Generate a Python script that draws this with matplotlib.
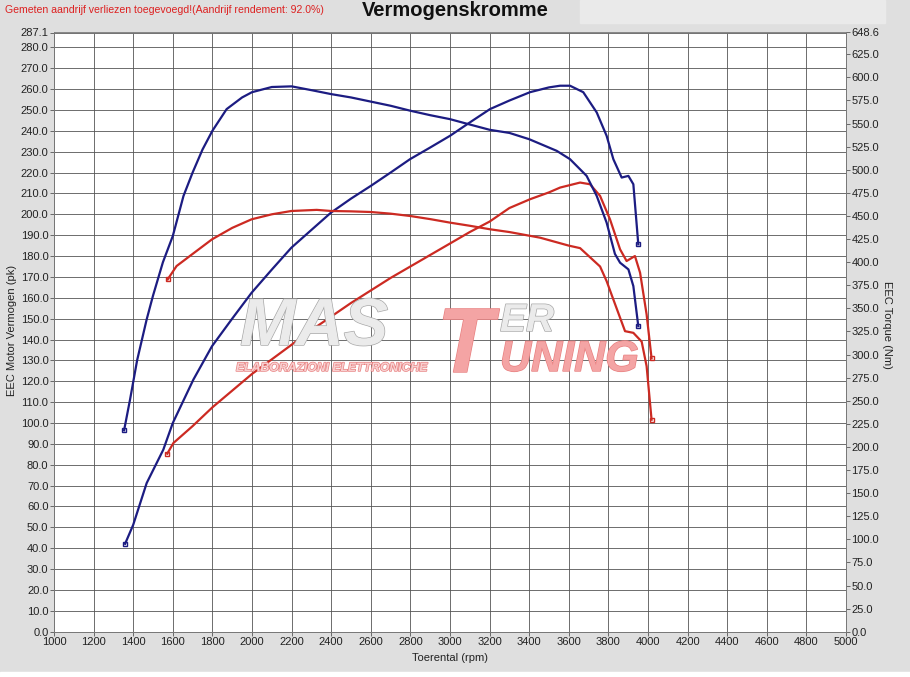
#!/usr/bin/env python3
"""
Vermogenskromme - dyno power / torque curves (stock vs tuned)
"""

import numpy as np
import matplotlib.pyplot as plt
from matplotlib.patches import Rectangle
import matplotlib.patheffects as pe

plt.rcParams['font.family'] = ['Liberation Sans', 'DejaVu Sans']

# Tuned power (pk)
rpm_pow_tuned = [1359, 1400, 1468, 1552, 1600, 1704, 1798, 1900, 1998, 2100, 2199, 2300,
                 2399, 2500, 2600, 2700, 2798, 2900, 3000, 3100, 3202, 3300, 3404, 3500,
                 3556, 3606, 3673, 3741, 3791, 3825, 3867, 3901, 3926, 3951]
pow_tuned = [42.1, 51.2, 71.2, 87.2, 100.0, 120.8, 136.8, 150.0, 162.4, 173.5, 184.0, 192.5,
             200.8, 207.5, 213.6, 220.0, 226.4, 232.0, 237.6, 244.0, 250.4, 254.5, 258.5, 260.8,
             261.6, 261.6, 258.5, 248.8, 237.6, 226.4, 217.6, 218.4, 214.4, 185.6]

# Tuned torque (Nm)
rpm_trq_tuned = [1354, 1384, 1420, 1468, 1500, 1550, 1600, 1654, 1700, 1750, 1800, 1872,
                 1950, 2000, 2100, 2200, 2300, 2400, 2500, 2600, 2700, 2800, 2900, 3000,
                 3100, 3200, 3300, 3400, 3539, 3606, 3690, 3741, 3791, 3833, 3859, 3901,
                 3926, 3951]
trq_tuned = [218.0, 251.2, 294.0, 338.0, 363.7, 399.9, 428.3, 471.7, 497.0, 521.9, 542.2, 565.7,
             578.3, 584.0, 589.6, 590.3, 586.2, 581.9, 578.3, 573.8, 569.3, 563.9, 559.1, 554.8,
             549.0, 543.3, 539.9, 533.1, 520.5, 511.5, 493.4, 471.7, 442.8, 408.9, 399.4, 392.2,
             374.1, 330.7]

# Stock power (pk)
rpm_pow_stock = [1572, 1603, 1700, 1800, 1900, 2000, 2100, 2200, 2300, 2400, 2500, 2600,
                 2700, 2800, 2900, 3000, 3100, 3200, 3300, 3404, 3500, 3556, 3657, 3707,
                 3758, 3808, 3859, 3892, 3934, 3960, 3993, 4018]
pow_stock = [85.3, 90.4, 98.5, 107.5, 115.5, 123.5, 130.5, 137.5, 144.5, 151.0, 157.5, 163.5,
             169.5, 175.0, 180.5, 186.0, 191.5, 196.5, 203.0, 207.2, 210.5, 212.8, 215.2, 214.4,
             208.8, 197.6, 183.2, 177.6, 180.0, 172.0, 152.0, 131.0]

# Stock torque (Nm)
rpm_trq_stock = [1574, 1619, 1700, 1798, 1900, 1998, 2100, 2199, 2327, 2399, 2500, 2600,
                 2700, 2798, 2900, 3000, 3100, 3202, 3300, 3455, 3600, 3657, 3758, 3791,
                 3825, 3884, 3926, 3968, 3993, 4018]
trq_stock = [381.3, 395.8, 408.9, 424.7, 437.1, 446.4, 451.8, 455.4, 456.6, 455.4, 455.0, 454.3,
             452.5, 450.0, 446.6, 442.8, 439.4, 435.6, 432.6, 426.5, 417.9, 415.2, 395.3, 379.5,
             359.6, 325.3, 323.5, 314.0, 287.4, 229.5]

x_ticks = np.arange(1000, 5001, 200)
left_ticks = list(np.arange(0, 281, 10)) + [287.1]
right_ticks = list(np.arange(0, 626, 25)) + [648.6]
left_max = 287.1
right_max = 648.6

blue = '#1c1c82'
red = '#cc2a22'
bg = '#dfdfdf'

fig = plt.figure(figsize=(9.1, 6.77), dpi=100, facecolor=bg)
fig.patches.append(Rectangle((580 / 910, 1 - 23 / 677), 305 / 910, 23 / 677,
                             transform=fig.transFigure, color='#eaeaea', zorder=0))
fig.patches.append(Rectangle((0, 0), 1, 5 / 677, transform=fig.transFigure,
                             color='white', zorder=0))

ax = fig.add_axes([54 / 910, 45.3 / 677, 792 / 910, 599.2 / 677])
ax.set_facecolor('white')
ax2 = ax.twinx()

ax.set_xlim(1000, 5000)
ax.set_ylim(0, left_max)
ax2.set_ylim(0, right_max)

ax.set_xticks(x_ticks)
ax.set_xticklabels([str(v) for v in x_ticks], fontsize=8)
ax.set_yticks(left_ticks)
ax.set_yticklabels([f'{v:.1f}' for v in left_ticks], fontsize=8)
ax2.set_yticks(right_ticks)
ax2.set_yticklabels([f'{v:.1f}' for v in right_ticks], fontsize=8)

for a in (ax, ax2):
    a.tick_params(direction='out', length=3, width=0.6, color='#555555',
                  labelcolor='#222222', pad=1)
    for s in a.spines.values():
        s.set_color('#777777')
        s.set_linewidth(0.6)

ax.grid(True, color='#555555', linewidth=0.6)
ax.set_axisbelow(True)

# watermark (logo), kept faint behind the curves
wm = [pe.withStroke(linewidth=1.0, foreground='#a8a8a8')]
wm_red = [pe.withStroke(linewidth=1.0, foreground='#e88080')]
fig.text(240 / 910, 1 - 345 / 677, 'MAS', fontsize=48, fontweight='bold', style='italic',
         color='#ebebeb', path_effects=wm, zorder=1, va='baseline')
fig.text(437 / 910, 1 - 372 / 677, 'T', fontsize=66, fontweight='bold', style='italic',
         color='#f4a4a4', path_effects=wm_red, zorder=1, va='baseline')
fig.text(500 / 910, 1 - 331 / 677, 'ER', fontsize=28, fontweight='bold', style='italic',
         color='#ebebeb', path_effects=wm, zorder=1, va='baseline')
fig.text(500 / 910, 1 - 371 / 677, 'UNING', fontsize=31, fontweight='bold', style='italic',
         color='#f4a4a4', path_effects=wm_red, zorder=1, va='baseline')
fig.text(236 / 910, 1 - 371 / 677, 'ELABORAZIONI ELETTRONICHE', fontsize=8.8,
         style='italic', fontweight='bold', color='#f8d0d0', path_effects=wm_red,
         zorder=1, va='baseline')

ax.plot(rpm_pow_tuned, pow_tuned, color=blue, linewidth=1.6, zorder=3,
        marker='s', markersize=2.5, markevery=[0, -1], mfc='none')
ax.plot(rpm_pow_stock, pow_stock, color=red, linewidth=1.6, zorder=3,
        marker='s', markersize=2.5, markevery=[0, -1], mfc='none')
ax2.plot(rpm_trq_tuned, trq_tuned, color=blue, linewidth=1.6, zorder=3,
         marker='s', markersize=2.5, markevery=[0, -1], mfc='none')
ax2.plot(rpm_trq_stock, trq_stock, color=red, linewidth=1.6, zorder=3,
         marker='s', markersize=2.5, markevery=[0, -1], mfc='none')

fig.text(0.5, 1 - 11 / 677, 'Vermogenskromme', fontsize=14.5, fontweight='bold',
         ha='center', va='center', color='#111111')
fig.text(5 / 910, 1 - 10 / 677,
         'Gemeten aandrijf verliezen toegevoegd!(Aandrijf rendement: 92.0%)',
         fontsize=7.6, ha='left', va='center', color='#dd2020',
         family=['Liberation Sans Narrow', 'Liberation Sans'])
fig.text(12 / 910, 1 - 330 / 677, 'EEC Motor Vermogen (pk)', fontsize=8, rotation=90,
         ha='center', va='center', color='#222222')
fig.text(887 / 910, 1 - 325 / 677, 'EEC Torque (Nm)', fontsize=8, rotation=270,
         ha='center', va='center', color='#222222')
fig.text(450 / 910, 1 - 658 / 677, 'Toerental (rpm)', fontsize=8,
         ha='center', va='center', color='#222222')

plt.savefig('out.png', dpi=100, facecolor=bg)
print("Saved: out.png")
